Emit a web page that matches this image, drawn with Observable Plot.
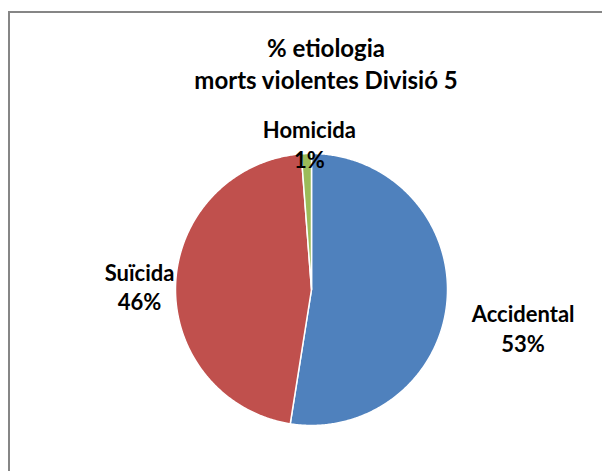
<!DOCTYPE html>
<html>
<head>
<meta charset="utf-8">
<script src="https://cdn.jsdelivr.net/npm/d3@7"></script>
<script src="https://cdn.jsdelivr.net/npm/@observablehq/plot@0.6"></script>
<style>
  html, body { margin: 0; padding: 0; background: #fff; }
  #wrap { position: relative; width: 602px; height: 471px; overflow: hidden; background: #fff; }
  #border { position: absolute; left: 8px; top: 11px; width: 700px; height: 600px; border: 2px solid #868686; box-sizing: border-box; }
  #title { position: absolute; left: 76px; width: 500px; top: 32px; text-align: center;
           font-family: Lato, "Open Sans", sans-serif; font-weight: bold; font-size: 24px; line-height: 32px; color: #000; }
  #chart { position: absolute; left: 0; top: 0; }
</style>
</head>
<body>
<div id="wrap">
  <div id="border"></div>
  <div id="title">% etiologia<br>morts violentes Divisió 5</div>
  <div id="chart"></div>
</div>
<script>
const categories = ["Accidental", "Suïcida", "Homicida"];
const values = [52.5, 46.3, 1.2];
const percentLabels = ["53%", "46%", "1%"];
const colors = ["#4F81BD", "#C0504D", "#9BBB59"];

const arcs = d3.pie().sort(null).value(d => d)(values);

// slice outlines in unit-circle data coordinates (angle measured clockwise from 12 o'clock)
const polys = [];
arcs.forEach((a, i) => {
  const cat = categories[i];
  polys.push({cat, x: 0, y: 0});
  const n = Math.max(2, Math.ceil((a.endAngle - a.startAngle) / (Math.PI / 360)));
  for (let k = 0; k <= n; k++) {
    const t = a.startAngle + (a.endAngle - a.startAngle) * k / n;
    polys.push({cat, x: Math.sin(t), y: Math.cos(t)});
  }
  polys.push({cat, x: 0, y: 0});
});

const labelData = arcs.map((a, i) => {
  const m = (a.startAngle + a.endAngle) / 2;
  return {cat: categories[i], text: categories[i] + "\n" + percentLabels[i], x: Math.sin(m), y: Math.cos(m)};
});

const textStyle = {x: "x", y: "y", text: "text", fontSize: 22, fontWeight: "bold", lineHeight: 1.36,
  fontFamily: "Lato, 'Open Sans', sans-serif", fill: "#000"};

const chart = Plot.plot({
  width: 602,
  height: 471,
  marginLeft: 175,
  marginRight: 155,
  marginTop: 153,
  marginBottom: 46,
  x: {domain: [-1, 1], axis: null},
  y: {domain: [-1, 1], axis: null},
  color: {domain: categories, range: colors},
  style: {background: "transparent", overflow: "visible"},
  marks: [
    Plot.line(polys, {x: "x", y: "y", z: "cat", fill: "cat", stroke: "#fff", strokeWidth: 1.5, curve: "linear"}),
    Plot.text(labelData.filter(d => d.cat === "Accidental"), {...textStyle, dx: 76, dy: 27}),
    Plot.text(labelData.filter(d => d.cat === "Suïcida"), {...textStyle, dx: -36, dy: 2}),
    Plot.text(labelData.filter(d => d.cat === "Homicida"), {...textStyle, dx: 3, dy: -10})
  ]
});
document.getElementById("chart").appendChild(chart);
</script>
</body>
</html>
